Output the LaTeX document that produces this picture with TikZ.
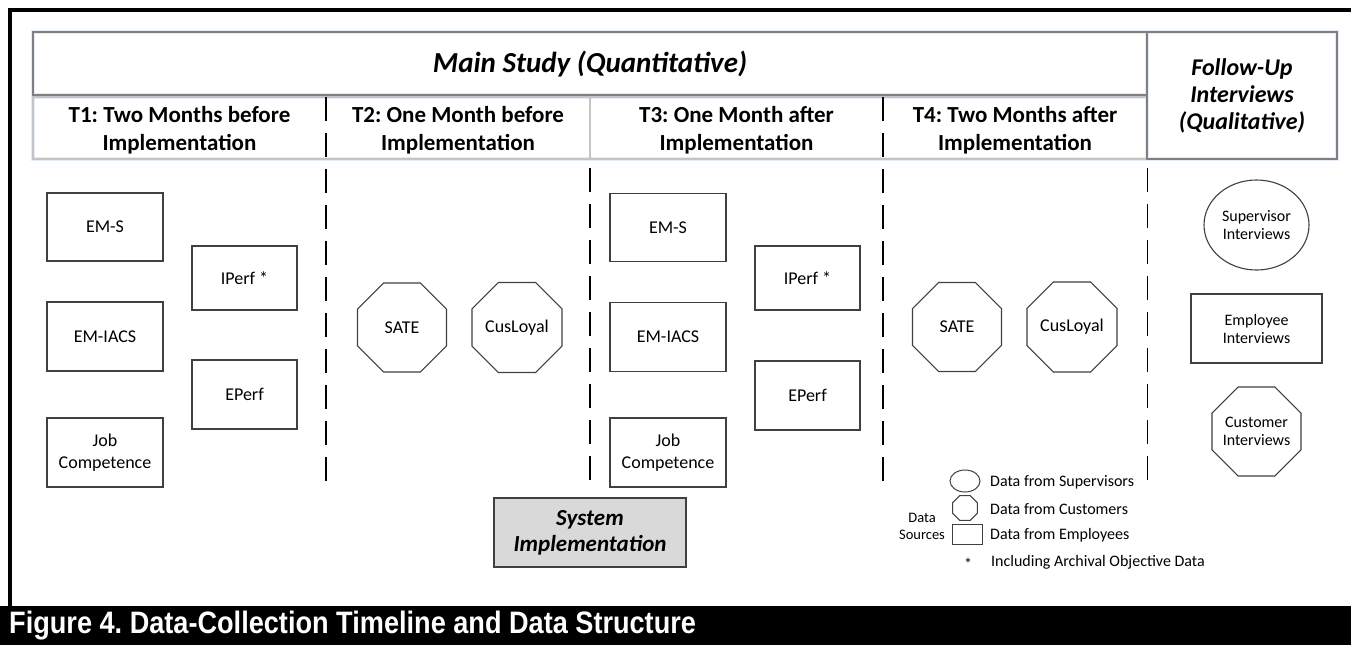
\documentclass[tikz,border=0pt]{standalone}
\usepackage{fontspec}
\setmainfont{Carlito}
\newfontfamily\capfont{Liberation Sans}[FakeStretch=0.875]
\usetikzlibrary{shapes.geometric}
\definecolor{boxline}{HTML}{404040}
\definecolor{headline}{HTML}{808080}
\definecolor{rowline}{HTML}{C4C4C4}
\definecolor{glow}{HTML}{E4ECF6}
\definecolor{implfill}{HTML}{D9D9D9}
\frenchspacing
\begin{document}
\begin{tikzpicture}[x=1pt,y=-1pt,
  empbox/.style={draw=boxline,line width=1.1pt,inner sep=0pt,align=center,
    font=\fontsize{18}{22}\selectfont},
  octa/.style={draw=boxline,line width=1.1pt,regular polygon,regular polygon sides=8,
    inner sep=0pt,minimum size=96.3pt,align=center,font=\fontsize{18}{22}\selectfont},
  headtxt/.style={align=center,font=\bfseries\fontsize{23}{28}\selectfont},
  divider/.style={line width=1.5pt,dash pattern=on 24pt off 12pt},
  legtxt/.style={anchor=west,font=\fontsize{16}{18}\selectfont,inner sep=0pt},
  ivtxt/.style={align=center,font=\fontsize{16}{18}\selectfont,inner sep=0pt},
  glowbox/.style={draw=glow,line width=4pt,inner sep=0pt}]
\useasboundingbox (0,0) rectangle (1351,645);
\fill[white] (0,0) rectangle (1351,645);
% outer frame and caption band
\fill[black] (8,8) rectangle (1351,12);
\fill[black] (8,8) rectangle (12,606);
\fill[black] (0,606) rectangle (1351,645);
\node[anchor=west,text=white,inner sep=0pt,font=\capfont\bfseries\fontsize{31}{31}\selectfont]
  (caption) at (9,626) {Figure 4. Data-Collection Timeline and Data Structure};

% header row
\node[glowbox,minimum width=1114pt,minimum height=63pt] (mainglow) at (590,63.5) {};
\node[glowbox,minimum width=1114pt,minimum height=62pt] (rowglow) at (590,128) {};
\node[glowbox,minimum width=190pt,minimum height=127pt] (fuglow) at (1242,95.5) {};
\node[draw=headline,line width=1.5pt,minimum width=1114pt,minimum height=63pt,inner sep=0pt] (mainbox) at (590,63.5) {};
\node[font=\bfseries\itshape\fontsize{29}{30}\selectfont] (maintitle) at (590,64) {Main Study (Quantitative)};
\node[draw=rowline,line width=1.5pt,minimum width=1114pt,minimum height=62pt,inner sep=0pt] (rowbox) at (590,128) {};
\node[draw=headline,line width=1.5pt,minimum width=190pt,minimum height=127pt,inner sep=0pt,
  align=center,font=\bfseries\itshape\fontsize{24}{27}\selectfont] (fubox) at (1242,95.5)
  {Follow-Up\\Interviews\\(Qualitative)};

\node[headtxt] (t1) at (179.5,130) {T1: Two Months before\\Implementation};
\node[headtxt] (t2) at (458,130) {T2: One Month before\\Implementation};
\node[headtxt] (t3) at (736.5,130) {T3: One Month after\\Implementation};
\node[headtxt] (t4) at (1015,130) {T4: Two Months after\\Implementation};

% column dividers
\draw[divider] (326,97) -- (326,490);
\draw[rowline,line width=1.5pt] (590,97) -- (590,159);
\draw[divider] (590,168) -- (590,490);
\draw[divider] (883,97) -- (883,490);
\draw[divider] (1147.5,168) -- (1147.5,490);

% T1 measures
\node[empbox,minimum width=116pt,minimum height=68pt] (t1ems) at (105,227) {EM-S};
\node[empbox,minimum width=116pt,minimum height=69pt] (t1emi) at (105,336.5) {EM-IACS};
\node[empbox,minimum width=116pt,minimum height=69pt] (t1job) at (105,452.5) {Job\\Competence};
\node[empbox,minimum width=105pt,minimum height=64pt] (t1ip) at (244.5,278) {IPerf *};
\node[empbox,minimum width=105pt,minimum height=69pt] (t1ep) at (244.5,394.5) {EPerf};

% T2 measures
\node[octa] (t2sate) at (402,327.5) {SATE};
\node[octa] (t2cus) at (517,327.5) {CusLoyal};

% T3 measures
\node[empbox,minimum width=116pt,minimum height=68pt] (t3ems) at (668,227.5) {EM-S};
\node[empbox,minimum width=116pt,minimum height=69pt] (t3emi) at (668,337) {EM-IACS};
\node[empbox,minimum width=116pt,minimum height=69pt] (t3job) at (668,452.5) {Job\\Competence};
\node[empbox,minimum width=105pt,minimum height=64pt] (t3ip) at (807.5,278) {IPerf *};
\node[empbox,minimum width=105pt,minimum height=69pt] (t3ep) at (807.5,395.5) {EPerf};

% T4 measures
\node[octa] (t4sate) at (957,327) {SATE};
\node[octa] (t4cus) at (1072,327) {CusLoyal};

% system implementation
\node[draw=boxline,line width=1.5pt,fill=implfill,minimum width=192pt,minimum height=69pt,
  inner sep=0pt,align=center,font=\bfseries\itshape\fontsize{23}{26}\selectfont]
  (impl) at (590,532.5) {System\\Implementation};

% follow-up interviews
\node[draw=boxline,line width=1.1pt,ellipse,minimum width=105pt,minimum height=90pt,inner sep=0pt] (supiv) at (1256.5,225) {};
\node[ivtxt] (supivtxt) at (supiv.center) {Supervisor\\Interviews};
\node[draw=boxline,line width=1.1pt,minimum width=131pt,minimum height=69pt,inner sep=0pt] (empiv) at (1256.5,328.5) {};
\node[ivtxt] (empivtxt) at (empiv.center) {Employee\\Interviews};
\node[octa] (cusiv) at (1256.5,431.5) {};
\node[ivtxt] (cusivtxt) at (cusiv.center) {Customer\\Interviews};

% legend
\node[draw=boxline,line width=1pt,ellipse,minimum width=30pt,minimum height=22pt,inner sep=0pt] (legsup) at (965,481) {};
\node[draw=boxline,line width=1pt,regular polygon,regular polygon sides=8,minimum size=27pt,inner sep=0pt] (legcus) at (965,508) {};
\node[draw=boxline,line width=1pt,minimum width=30pt,minimum height=20pt,inner sep=0pt] (legemp) at (967,534) {};
\node[legtxt] (legsuptxt) at (990,482) {Data from Supervisors};
\node[legtxt] (legcustxt) at (990,509) {Data from Customers};
\node[legtxt] (legemptxt) at (990,535) {Data from Employees};
\node[inner sep=0pt,font=\fontsize{16}{18}\selectfont] (legstar) at (968,564) {*};
\node[legtxt] (legstartxt) at (991,562) {Including Archival Objective Data};
\node[align=center,inner sep=0pt,font=\fontsize{14.5}{17}\selectfont] (legsrc) at (922,526.5) {Data\\Sources};
\end{tikzpicture}
\end{document}
